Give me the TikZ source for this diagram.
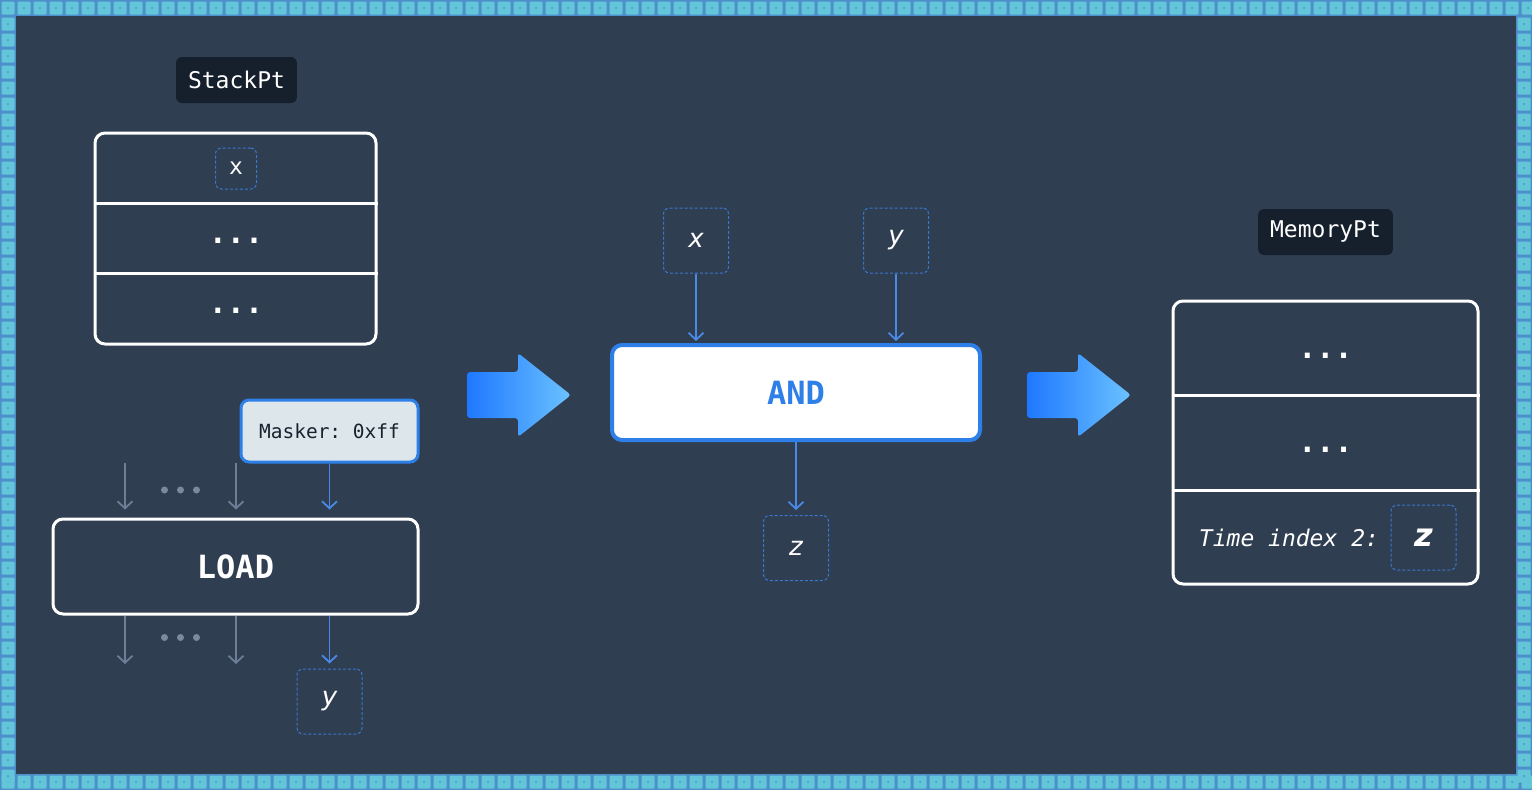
\documentclass[tikz,border=0pt]{standalone}
\usepackage{fontspec}
\setmainfont{DejaVu Sans}
\setmonofont{DejaVu Sans Mono}
\usetikzlibrary{positioning,arrows.meta}

\definecolor{bgslate}{HTML}{2F3E50}
\definecolor{tagdark}{HTML}{16202D}
\definecolor{wireblue}{HTML}{4A8AE6}
\definecolor{dashblue}{HTML}{3A78D0}
\definecolor{wiregray}{HTML}{6E7E96}
\definecolor{dotgray}{HTML}{7B899F}
\definecolor{andblue}{HTML}{2F7FE8}
\definecolor{maskfill}{HTML}{DCE6EB}
\definecolor{maskink}{HTML}{1A2230}
\definecolor{tileface}{HTML}{62C6D8}
\definecolor{tileedge}{HTML}{4C8FCB}
\definecolor{fatleft}{HTML}{1E78FF}
\definecolor{fatright}{HTML}{6CC2FF}

\begin{document}
\begin{tikzpicture}
[
  x=1pt, y=-1pt,
  >={Straight Barb[length=7pt,width=15pt]},
  tag/.style = {fill=tagdark, rounded corners=6pt, text=white, minimum height=46pt, inner xsep=12pt, font=\ttfamily\fontsize{23}{23}\selectfont},
  slot/.style = {draw=dashblue, dash pattern=on 3pt off 2pt, line width=1pt, rounded corners=6pt, minimum size=65pt, text=white, font=\fontsize{26}{26}\selectfont\itshape},
  smallslot/.style = {slot, minimum size=41pt, font=\ttfamily\fontsize{23}{23}\selectfont},
  cell/.style = {draw=white, line width=3pt, rounded corners=10pt},
  rowsep/.style = {draw=white, line width=3pt},
  dots/.style = {text=white, anchor=base, inner sep=0pt, font=\ttfamily\bfseries\fontsize{30}{30}\selectfont},
  opbox/.style = {cell, minimum width=365pt, minimum height=95pt, text=white, font=\ttfamily\bfseries\fontsize{32}{32}\selectfont},
  wire/.style = {->, draw=wireblue, line width=1.8pt},
  wiregrey/.style = {->, draw=wiregray, line width=1.8pt},
  fatarrow/.style = {left color=fatleft, right color=fatright, rounded corners=3pt},
  tile/.style = {fill=tileface, rounded corners=1pt},
]

% tiled frame
\useasboundingbox (0,0) rectangle (1532,790);
\fill[tileedge] (0,0) rectangle (1532,790);
\foreach \i in {0,16,...,1532} {
  \fill[tile] (\i+1.5,1.5) rectangle (\i+14.5,14.5);
  \fill[tile] (\i+1.5,775.5) rectangle (\i+14.5,788.5);
  \fill[tileedge] (\i+8,8) circle (1pt);
  \fill[tileedge] (\i+8,782) circle (1pt);
}
\foreach \j in {16,32,...,774} {
  \fill[tile] (1.5,\j+1.5) rectangle (14.5,\j+14.5);
  \fill[tile] (1517.5,\j+1.5) rectangle (1530.5,\j+14.5);
  \fill[tileedge] (8,\j+8) circle (1pt);
  \fill[tileedge] (1524,\j+8) circle (1pt);
}
\fill[bgslate] (16,16) rectangle (1516,774);

% stack
\node (stacktag) at (236.5,80) [tag] {StackPt};
\node (stack) at (235.5,238.5) [cell, minimum width=281pt, minimum height=211pt] {};
\draw[rowsep] ([yshift=-71.5pt]stack.north west) -- ([yshift=-71.5pt]stack.north east);
\draw[rowsep] ([yshift=-141.5pt]stack.north west) -- ([yshift=-141.5pt]stack.north east);
\node (sx) at (236,168.5) [smallslot] {x};
\node (sdots1) at (236,243) [dots] {...};
\node (sdots2) at (236,313) [dots] {...};

% load
\node (masker) at (329.5,431) [draw=andblue, fill=maskfill, line width=3pt, rounded corners=8pt, minimum width=177pt, minimum height=62pt, text=maskink, font=\ttfamily\fontsize{19.5}{20}\selectfont] {Masker: 0xff};
\node (load) at (235.5,566.5) [opbox] {LOAD};
\node (ly) at (329.5,701.5) [slot] {y};
\coordinate (gin1) at (125,463);
\coordinate (gin2) at (236,463);
\coordinate (gout1) at (125,664);
\coordinate (gout2) at (236,664);
\draw[wiregrey, shorten >=8pt] (gin1) -- (gin1 |- load.north);
\draw[wiregrey, shorten >=8pt] (gin2) -- (gin2 |- load.north);
\draw[wire, shorten >=8pt] (masker.south) -- (masker.south |- load.north);
\draw[wiregrey] (gout1 |- load.south) -- (gout1);
\draw[wiregrey] (gout2 |- load.south) -- (gout2);
\draw[wire, shorten >=5pt] (ly.north |- load.south) -- (ly.north);
\foreach \dx in {164.5,180.5,196.5} {
  \fill[dotgray] (\dx,490) circle (3.5pt);
  \fill[dotgray] (\dx,637.5) circle (3.5pt);
}

\shade[fatarrow] (467,372) -- (518,372) -- (518,353) -- (571,395) -- (518,437) -- (518,418) -- (467,418) -- cycle;

% and
\node (and) at (796,392.5) [opbox, fill=white, draw=andblue, line width=4pt, minimum width=368pt, text=andblue] {AND};
\node (ax) at (696,240.5) [slot] {x};
\node (ay) at (896,240.5) [slot] {y};
\node (az) at (796,548) [slot] {z};
\draw[wire, shorten >=2pt] (ax) -- (ax |- and.north);
\draw[wire, shorten >=2pt] (ay) -- (ay |- and.north);
\draw[wire, shorten >=5pt] (and.south) -- (az.north);

\shade[fatarrow] (1027,372) -- (1078,372) -- (1078,353) -- (1131,395) -- (1078,437) -- (1078,418) -- (1027,418) -- cycle;

% memory
\node (memtag) at (1325.5,232) [tag] {MemoryPt};
\node (mem) at (1325.5,442.5) [cell, minimum width=305pt, minimum height=283pt] {};
\draw[rowsep] ([yshift=-95.5pt]mem.north west) -- ([yshift=-95.5pt]mem.north east);
\draw[rowsep] ([yshift=-190.5pt]mem.north west) -- ([yshift=-190.5pt]mem.north east);
\node (mdots1) at (1325.5,358) [dots] {...};
\node (mdots2) at (1325.5,452) [dots] {...};
\node (mz) at (1423.5,537.5) [slot, font=\bfseries\itshape\fontsize{32}{32}\selectfont] {z};
\node (mtime) [left=8pt of mz, text=white, font=\ttfamily\itshape\fontsize{23}{23}\selectfont] {Time index 2:};

\end{tikzpicture}
\end{document}
